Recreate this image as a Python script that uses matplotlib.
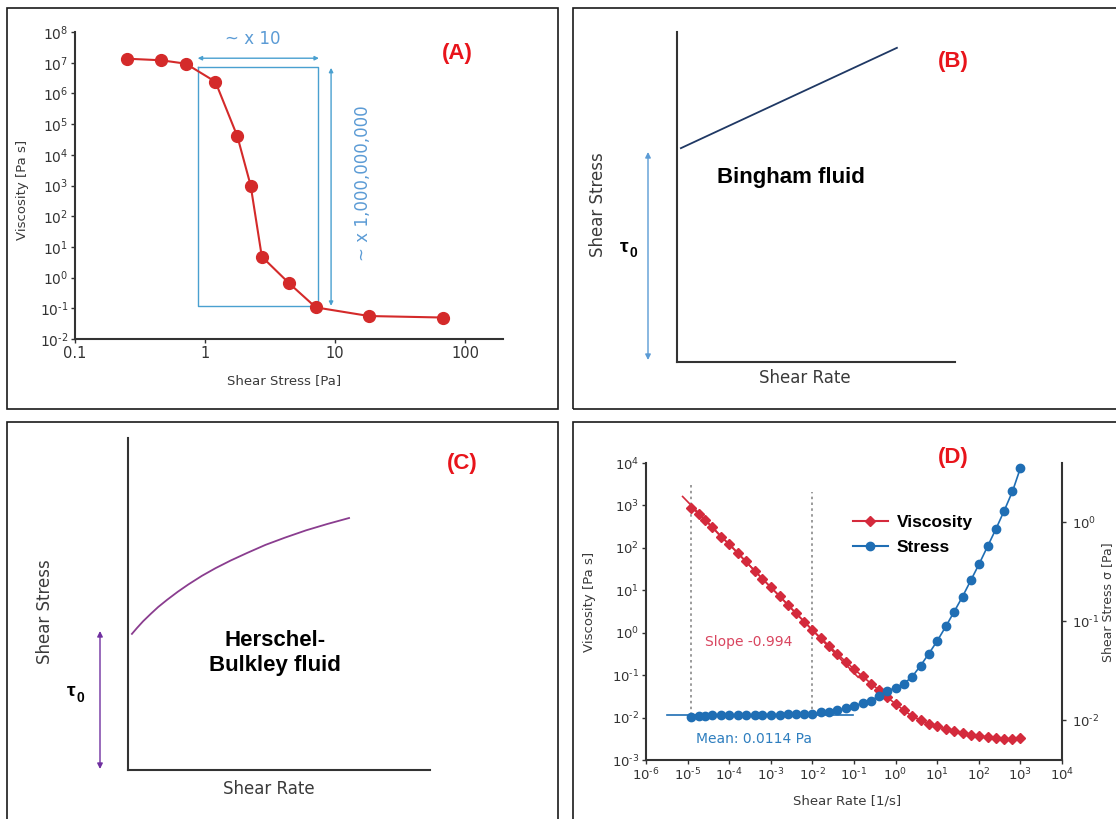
import numpy as np
import matplotlib
matplotlib.use('Agg')
import matplotlib.pyplot as plt
from matplotlib.patches import Rectangle
from matplotlib.lines import Line2D
from matplotlib.ticker import FixedLocator, NullLocator, FixedFormatter

# ---------------- data ----------------
# Panel A: viscosity vs shear stress
stress_A = [0.25, 0.46, 0.71, 1.2, 1.77, 2.24, 2.73, 4.43, 7.1, 18.2, 68.0]
visc_A = [1.35e7, 1.2e7, 9.3e6, 2.4e6, 4.0e4, 1.0e3, 4.8, 0.65, 0.107, 0.056, 0.05]
box_A_x = [0.877, 7.4]
box_A_y = [0.119, 7.2e6]
arrow_h_A = [0.877, 7.5, 1.4e7]      # x0, x1, y
arrow_v_A = [9.3, 0.12, 6.8e6]       # x, y0, y1
ticks_A_x = [0.1, 1, 10, 100]
ticks_A_x_labels = ['0.1', '1', '10', '100']
ticks_A_y_exp = list(range(-2, 9))

# Panel B: Bingham fluid (schematic units 0..1)
bingham_x = [0.014, 0.791]
bingham_y = [0.648, 0.952]

# Panel C: Herschel-Bulkley fluid (schematic units 0..1)
hb_x = [0.013, 0.03, 0.05, 0.075, 0.10, 0.13, 0.165, 0.20, 0.245, 0.29, 0.34,
        0.395, 0.455, 0.52, 0.59, 0.66, 0.732]
hb_y = [0.410, 0.428, 0.448, 0.470, 0.491, 0.513, 0.537, 0.559, 0.585, 0.608, 0.631,
        0.654, 0.678, 0.700, 0.722, 0.741, 0.759]

# Panel D: flow curve (log10 values)
rate_exp = [-4.91, -4.73, -4.58, -4.41, -4.20, -4.01, -3.80, -3.60, -3.39, -3.20, -3.00,
            -2.79, -2.59, -2.40, -2.19, -2.00, -1.80, -1.60, -1.40, -1.19, -1.00, -0.79,
            -0.59, -0.39, -0.20, 0.00, 0.20, 0.40, 0.60, 0.80, 1.00, 1.21, 1.41, 1.61,
            1.81, 2.01, 2.21, 2.41, 2.61, 2.81, 3.00]
visc_exp = [2.95, 2.80, 2.65, 2.49, 2.26, 2.10, 1.89, 1.68, 1.46, 1.27, 1.07,
            0.87, 0.66, 0.46, 0.26, 0.06, -0.12, -0.31, -0.50, -0.69, -0.86, -1.03,
            -1.20, -1.36, -1.52, -1.68, -1.83, -1.97, -2.06, -2.14, -2.21, -2.27, -2.31, -2.36,
            -2.40, -2.43, -2.46, -2.48, -2.50, -2.50, -2.47]
stress_exp = [-1.966, -1.960, -1.956, -1.949, -1.946, -1.946, -1.946, -1.946, -1.944, -1.944, -1.942,
              -1.942, -1.940, -1.940, -1.939, -1.939, -1.919, -1.912, -1.899, -1.879, -1.852, -1.828,
              -1.801, -1.751, -1.704, -1.670, -1.630, -1.559, -1.448, -1.327, -1.199, -1.051, -0.902, -0.751,
              -0.586, -0.421, -0.246, -0.071, 0.114, 0.310, 0.545]
fit_rate_exp = [-5.12, -0.9]
fit_visc_exp = [3.21, -1.05]
mean_rate_exp = [-5.5, -1.02]
mean_stress = 0.0114
dotted_rate_exp = [-4.91, -2.00]
dotted_top_exp = [3.53, 3.31]
dotted_bottom_exp = -1.94
ticks_D_x_exp = list(range(-6, 5))
ticks_D_y_exp = list(range(-3, 5))
ticks_D_y2_exp = [-2, -1, 0]

rate = 10.0 ** np.array(rate_exp)
visc = 10.0 ** np.array(visc_exp)
stress = 10.0 ** np.array(stress_exp)

# ---------------- style ----------------
W, H = 1116, 819
plt.rcParams['font.family'] = ['DejaVu Sans']
plt.rcParams['mathtext.fontset'] = 'dejavusans'
plt.rcParams['axes.unicode_minus'] = False
GREY = '#333333'
LBL = '#3a3a3a'
RED_A = '#d42a2a'
BOX_C = '#4aa0d0'
TXT_BLUE = '#5b9bd5'
PANEL_RED = '#e8141b'
BOLD = ['Liberation Sans', 'DejaVu Sans']
RED_D = '#d42a3c'
BLUE_D = '#1f6eb4'

fig = plt.figure(figsize=(W / 100, H / 100), dpi=100)


def add_ax(l, t, r, b):
    return fig.add_axes([l / W, 1 - b / H, (r - l) / W, (b - t) / H])


def ptext(px, py, s, **kw):
    kw.setdefault('ha', 'center')
    kw.setdefault('va', 'center')
    return fig.text(px / W, 1 - py / H, s, **kw)


def parrow(x0, y0, x1, y1, color, ms=8):
    fig.add_artist(matplotlib.patches.FancyArrowPatch(
        (x0 / W, 1 - y0 / H), (x1 / W, 1 - y1 / H), transform=fig.transFigure,
        arrowstyle='<|-|>', color=color, lw=1.0, mutation_scale=ms,
        shrinkA=0, shrinkB=0))


def tau(px, py, size=14):
    ptext(px, py, 'τ', fontsize=size, fontweight='bold', family=BOLD, color='black')
    ptext(px + 9, py + 6, '0', fontsize=size * 0.72, fontweight='bold', family=BOLD, color='black')


def sup(e):
    return '$10^{%s}$' % (str(e).replace('-', '\u2010'))


# frames
for (l, t, r, b) in [(7, 8, 558, 409), (573, 8, 1130, 409), (7, 422, 558, 830), (573, 422, 1130, 830)]:
    fig.patches.append(Rectangle((l / W, 1 - b / H), (r - l) / W, (b - t) / H,
                                 transform=fig.transFigure, fill=False,
                                 edgecolor='#1a1a1a', lw=1.2))


def style_log_axes(ax, size):
    for s in ['top', 'right']:
        ax.spines[s].set_visible(False)
    for s in ['left', 'bottom']:
        ax.spines[s].set_color(GREY)
        ax.spines[s].set_linewidth(1.5)
    ax.tick_params(which='major', direction='out', length=3, width=1, color=GREY,
                   labelsize=size, labelcolor=GREY, pad=2)
    ax.tick_params(which='minor', length=0)
    ax.set_facecolor('none')


# ---------------- Panel A ----------------
axA = add_ax(75, 32, 503, 339)
axA.set_xscale('log')
axA.set_yscale('log')
axA.set_xlim(0.1, 195)
axA.set_ylim(1e-2, 1e8)
style_log_axes(axA, 10)
axA.xaxis.set_major_locator(FixedLocator(ticks_A_x))
axA.xaxis.set_major_formatter(FixedFormatter(ticks_A_x_labels))
axA.xaxis.set_minor_locator(NullLocator())
axA.yaxis.set_major_locator(FixedLocator([10.0 ** e for e in ticks_A_y_exp]))
axA.yaxis.set_major_formatter(FixedFormatter([sup(e) for e in ticks_A_y_exp]))
axA.yaxis.set_minor_locator(NullLocator())
axA.tick_params(axis='x', labelsize=10.5)

axA.plot([box_A_x[0], box_A_x[1], box_A_x[1], box_A_x[0], box_A_x[0]],
         [box_A_y[1], box_A_y[1], box_A_y[0], box_A_y[0], box_A_y[1]],
         color=BOX_C, lw=1.0, zorder=2)
axA.annotate('', xy=(arrow_h_A[1], arrow_h_A[2]), xytext=(arrow_h_A[0], arrow_h_A[2]),
             arrowprops=dict(arrowstyle='<|-|>', color=BOX_C, lw=1.0, mutation_scale=6,
                             shrinkA=0, shrinkB=0))
axA.annotate('', xy=(arrow_v_A[0], arrow_v_A[1]), xytext=(arrow_v_A[0], arrow_v_A[2]),
             arrowprops=dict(arrowstyle='<|-|>', color=BOX_C, lw=1.0, mutation_scale=6,
                             shrinkA=0, shrinkB=0))
axA.plot(stress_A, visc_A, '-o', color=RED_A, mfc=RED_A, mec=RED_A, ms=8.5, lw=1.5, zorder=3)
axA.text(2.34, 10 ** 7.78, '~ x 10', ha='center', va='center', color=TXT_BLUE, fontsize=12)
axA.text(16.3, 10 ** 3.08, '~ x 1,000,000,000', ha='center', va='center', rotation=90,
         color=TXT_BLUE, fontsize=12)
ptext(23, 190, 'Viscosity [Pa s]', rotation=90, fontsize=9.5, color=LBL)
ptext(284, 381, 'Shear Stress [Pa]', fontsize=9.5, color=LBL)
ptext(457, 53, '(A)', fontsize=16, fontweight='bold', family=BOLD, color=PANEL_RED)

# ---------------- Panel B ----------------
axB = add_ax(677, 32, 955, 362)
axB.set_xlim(0, 1)
axB.set_ylim(0, 1)
for s in ['top', 'right']:
    axB.spines[s].set_visible(False)
for s in ['left', 'bottom']:
    axB.spines[s].set_color(GREY)
    axB.spines[s].set_linewidth(1.5)
axB.set_xticks([])
axB.set_yticks([])
axB.set_facecolor('none')
axB.plot(bingham_x, bingham_y, color='#1f3864', lw=1.3)
parrow(648, 152, 648, 360, '#5b9bd5')
ptext(598, 205, 'Shear Stress', rotation=90, fontsize=12, color=LBL)
tau(624, 247)
ptext(791, 178, 'Bingham fluid', fontsize=16, fontweight='bold', family=BOLD, color='black')
ptext(805, 378, 'Shear Rate', fontsize=12, color=LBL)
ptext(953, 62, '(B)', fontsize=16, fontweight='bold', family=BOLD, color=PANEL_RED)

# ---------------- Panel C ----------------
axC = add_ax(128, 438, 430, 770)
axC.set_xlim(0, 1)
axC.set_ylim(0, 1)
for s in ['top', 'right']:
    axC.spines[s].set_visible(False)
for s in ['left', 'bottom']:
    axC.spines[s].set_color(GREY)
    axC.spines[s].set_linewidth(1.5)
axC.set_xticks([])
axC.set_yticks([])
axC.set_facecolor('none')
axC.plot(hb_x, hb_y, color='#8a3d8f', lw=1.3)
parrow(100, 631, 100, 769, '#7030a0')
ptext(45, 612, 'Shear Stress', rotation=90, fontsize=12, color=LBL)
tau(71, 692)
ptext(275, 653, 'Herschel-\nBulkley fluid', fontsize=16, fontweight='bold', family=BOLD,
      color='black', linespacing=1.25)
ptext(269, 789, 'Shear Rate', fontsize=12, color=LBL)
ptext(462, 463, '(C)', fontsize=16, fontweight='bold', family=BOLD, color=PANEL_RED)

# ---------------- Panel D ----------------
axD = add_ax(646, 463, 1062, 760)
axD.set_xscale('log')
axD.set_yscale('log')
axD.set_xlim(1e-6, 1e4)
axD.set_ylim(1e-3, 1e4)
style_log_axes(axD, 9.5)
axD.xaxis.set_major_locator(FixedLocator([10.0 ** e for e in ticks_D_x_exp]))
axD.xaxis.set_major_formatter(FixedFormatter([sup(e) for e in ticks_D_x_exp]))
axD.xaxis.set_minor_locator(NullLocator())
axD.yaxis.set_major_locator(FixedLocator([10.0 ** e for e in ticks_D_y_exp]))
axD.yaxis.set_major_formatter(FixedFormatter([sup(e) for e in ticks_D_y_exp]))
axD.yaxis.set_minor_locator(NullLocator())

axD2 = axD.twinx()
axD2.set_yscale('log')
axD2.set_ylim(10 ** -2.4, 10 ** 0.596)
for s in ['top', 'left', 'bottom']:
    axD2.spines[s].set_visible(False)
axD2.spines['right'].set_color(GREY)
axD2.spines['right'].set_linewidth(1.5)
axD2.yaxis.set_major_locator(FixedLocator([10.0 ** e for e in ticks_D_y2_exp]))
axD2.yaxis.set_major_formatter(FixedFormatter([sup(e) for e in ticks_D_y2_exp]))
axD2.yaxis.set_minor_locator(NullLocator())
axD2.tick_params(which='major', direction='out', length=3, width=1, color=GREY,
                 labelsize=9.5, labelcolor=GREY, pad=4)
axD2.tick_params(which='minor', length=0)

for xe, te in zip(dotted_rate_exp, dotted_top_exp):
    axD.plot([10 ** xe, 10 ** xe], [10 ** dotted_bottom_exp, 10 ** te], ls=(0, (1.5, 2)),
             color='#8a8a8a', lw=1.2, zorder=1)
axD.plot(10.0 ** np.array(fit_rate_exp), 10.0 ** np.array(fit_visc_exp), color=RED_D, lw=1.2, zorder=2)
axD.plot(rate, visc, '-D', color=RED_D, mfc=RED_D, mec=RED_D, ms=5, lw=1.2, zorder=3)
axD2.plot(10.0 ** np.array(mean_rate_exp), [mean_stress, mean_stress], color=BLUE_D, lw=1.2, zorder=2)
axD2.plot(rate, stress, '-o', color=BLUE_D, mfc=BLUE_D, mec=BLUE_D, ms=6, lw=1.2, zorder=3)

axD.text(10 ** -3.53, 10 ** -0.21, 'Slope -0.994', ha='center', va='center',
         color='#d9455f', fontsize=10)
axD.text(10 ** -3.41, 10 ** -2.5, 'Mean: 0.0114 Pa', ha='center', va='center',
         color='#2e7ebf', fontsize=10)

handles = [Line2D([], [], color=RED_D, marker='D', ms=5, lw=1.5),
           Line2D([], [], color=BLUE_D, marker='o', ms=6, lw=1.5)]
axD.legend(handles, ['Viscosity', 'Stress'], loc='upper left',
           bbox_to_anchor=(853 / W, 1 - 515 / H), bbox_transform=fig.transFigure,
           frameon=False, prop=dict(family=BOLD, weight='bold', size=12.5),
           handlelength=2.0, handletextpad=0.5, labelspacing=0.55, borderpad=0, borderaxespad=0)

ptext(589, 602, 'Viscosity [Pa s]', rotation=90, fontsize=9.5, color=LBL)
ptext(847, 801, 'Shear Rate [1/s]', fontsize=9.5, color=LBL)
ptext(1108, 602, 'Shear Stress σ [Pa]', rotation=90, fontsize=9, color=LBL)
ptext(953, 457, '(D)', fontsize=16, fontweight='bold', family=BOLD, color=PANEL_RED)

fig.savefig('out.png', dpi=100)
